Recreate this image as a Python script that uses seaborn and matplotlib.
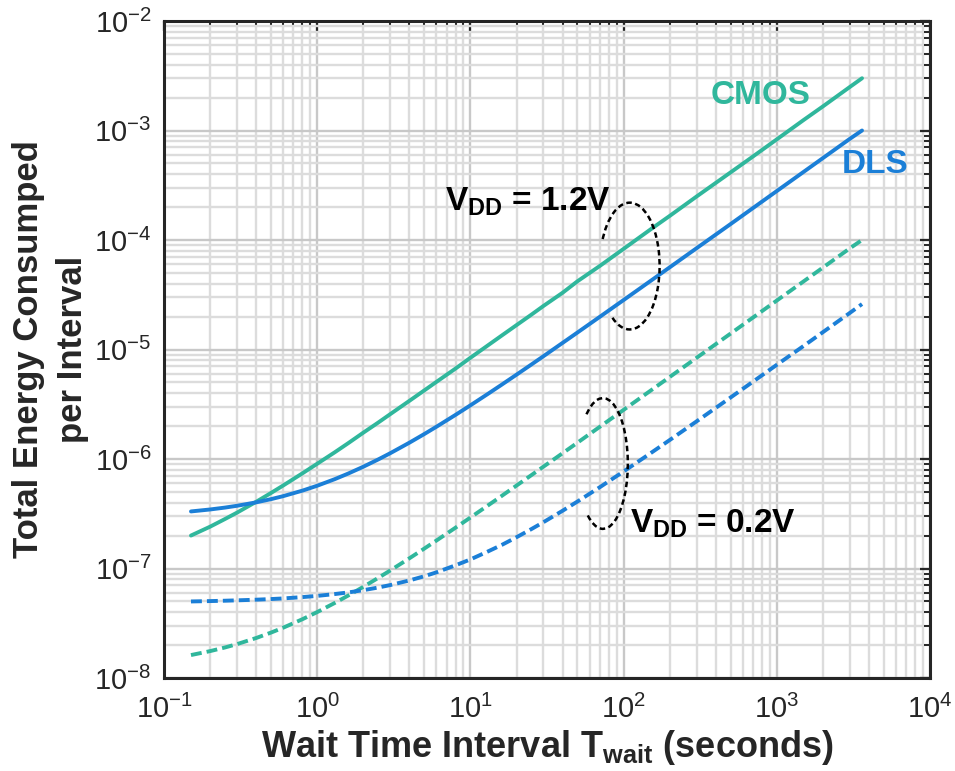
import numpy as np
import pandas as pd
import matplotlib
matplotlib.use("Agg")
import matplotlib.pyplot as plt
from matplotlib.patches import Arc
from matplotlib.ticker import LogLocator, NullFormatter
import seaborn as sns

# ---- data ----
t_wait = [0.15, 0.2, 0.25, 0.3, 0.4, 0.5, 0.6, 0.8, 1, 1.3, 1.6, 2, 2.5, 3, 4, 5, 6, 8,
          10, 13, 16, 20, 25, 30, 40, 50, 70, 100, 150, 200, 300, 500, 700, 1000,
          1500, 2000, 3000, 3600]
cmos_12 = [2.0e-7, 2.41e-7, 2.83e-7, 3.24e-7, 4.07e-7, 4.9e-7, 5.73e-7, 7.39e-7, 9.05e-7,
           1.15e-6, 1.40e-6, 1.74e-6, 2.15e-6, 2.57e-6, 3.4e-6, 4.23e-6, 5.06e-6, 6.7e-6,
           8.4e-6, 1.09e-5, 1.34e-5, 1.67e-5, 2.08e-5, 2.5e-5, 3.3e-5, 4.2e-5, 5.8e-5,
           8.3e-5, 1.25e-4, 1.66e-4, 2.5e-4, 4.15e-4, 5.8e-4, 8.3e-4, 1.25e-3, 1.66e-3,
           2.5e-3, 3.0e-3]
dls_12 = [3.32e-7, 3.46e-7, 3.6e-7, 3.74e-7, 4.02e-7, 4.3e-7, 4.58e-7, 5.14e-7, 5.7e-7,
          6.54e-7, 7.38e-7, 8.5e-7, 9.9e-7, 1.13e-6, 1.41e-6, 1.69e-6, 1.97e-6, 2.53e-6,
          3.09e-6, 3.93e-6, 4.77e-6, 5.89e-6, 7.29e-6, 8.69e-6, 1.15e-5, 1.43e-5, 1.99e-5,
          2.83e-5, 4.23e-5, 5.63e-5, 8.43e-5, 1.40e-4, 1.96e-4, 2.80e-4, 4.2e-4, 5.6e-4,
          8.4e-4, 1.0e-3]
cmos_02 = [1.62e-8, 1.76e-8, 1.9e-8, 2.04e-8, 2.32e-8, 2.6e-8, 2.88e-8, 3.44e-8, 4.0e-8,
           4.84e-8, 5.68e-8, 6.8e-8, 8.2e-8, 9.6e-8, 1.24e-7, 1.52e-7, 1.8e-7, 2.36e-7,
           2.92e-7, 3.76e-7, 4.6e-7, 5.72e-7, 7.12e-7, 8.52e-7, 1.13e-6, 1.41e-6, 1.97e-6,
           2.81e-6, 4.21e-6, 5.61e-6, 8.41e-6, 1.40e-5, 1.96e-5, 2.8e-5, 4.2e-5, 5.6e-5,
           8.4e-5, 1.0e-4]
dls_02 = [5.0e-8, 5.04e-8, 5.08e-8, 5.12e-8, 5.19e-8, 5.26e-8, 5.33e-8, 5.48e-8, 5.62e-8,
          5.84e-8, 6.05e-8, 6.34e-8, 6.7e-8, 7.06e-8, 7.78e-8, 8.5e-8, 9.22e-8, 1.07e-7,
          1.21e-7, 1.43e-7, 1.64e-7, 1.93e-7, 2.29e-7, 2.65e-7, 3.37e-7, 4.09e-7, 5.53e-7,
          7.69e-7, 1.13e-6, 1.49e-6, 2.21e-6, 3.65e-6, 5.09e-6, 7.25e-6, 1.08e-5, 1.44e-5,
          2.16e-5, 2.6e-5]

x_ticks = [1e-1, 1e0, 1e1, 1e2, 1e3, 1e4]
y_ticks = [1e-8, 1e-7, 1e-6, 1e-5, 1e-4, 1e-3, 1e-2]

TEAL = "#30B79C"
BLUE = "#1B7FD7"
DARK = "#262626"

sns.set_theme(style="white")
plt.rcParams["font.family"] = ["Liberation Sans", "DejaVu Sans"]
plt.rcParams["mathtext.fontset"] = "custom"
plt.rcParams["mathtext.rm"] = "Liberation Sans"
plt.rcParams["mathtext.bf"] = "Liberation Sans:bold"
plt.rcParams["mathtext.it"] = "Liberation Sans:italic"
plt.rcParams["axes.unicode_minus"] = False

fig = plt.figure(figsize=(9.55, 7.71), dpi=100)
ax = fig.add_axes([164 / 955, 93 / 771, 766 / 955, 657 / 771])

DASH = (0, (2.8, 1.3))
series = [
    (cmos_12, TEAL, "-"),
    (dls_12, BLUE, "-"),
    (cmos_02, TEAL, DASH),
    (dls_02, BLUE, DASH),
]
for vals, col, ls in series:
    df = pd.DataFrame({"t": t_wait, "e": vals})
    sns.lineplot(data=df, x="t", y="e", ax=ax, color=col, linewidth=2.8,
                 linestyle=ls, estimator=None, sort=False, zorder=3)

ax.set_xscale("log")
ax.set_yscale("log")
ax.set_xlim(x_ticks[0], x_ticks[-1])
ax.set_ylim(y_ticks[0], y_ticks[-1])
ax.set_xticks(x_ticks)
ax.set_yticks(y_ticks)
ax.xaxis.set_minor_locator(LogLocator(base=10, subs=np.arange(2, 10), numticks=100))
ax.yaxis.set_minor_locator(LogLocator(base=10, subs=np.arange(2, 10), numticks=100))
ax.xaxis.set_minor_formatter(NullFormatter())
ax.yaxis.set_minor_formatter(NullFormatter())

ax.grid(which="minor", color="#DCDCDC", linewidth=1.7, zorder=0)
ax.grid(which="major", color="#C8C8C8", linewidth=1.7, zorder=0)
ax.set_axisbelow(True)

for sp in ax.spines.values():
    sp.set_color(DARK)
    sp.set_linewidth(2.2)
ax.tick_params(which="both", direction="in", top=True, right=True, color=DARK,
               labelcolor=DARK, labelsize=21)
ax.tick_params(which="major", length=7, width=1.6)
ax.tick_params(which="minor", length=4, width=1.4)
ax.tick_params(axis="x", which="both", pad=12)
ax.tick_params(axis="y", which="both", pad=9)

ax.set_xlabel(r"Wait Time Interval $\mathbf{T_{wait}}$ (seconds)", fontsize=26,
              fontweight="bold", color=DARK, labelpad=3)
ax.set_ylabel("Total Energy Consumped\nper Interval", fontsize=25,
              fontweight="bold", color=DARK, labelpad=4, linespacing=1.4)

ax.text(0.779, 0.887, "CMOS", transform=ax.transAxes, color=TEAL, fontsize=24,
        fontweight="bold", ha="center", va="center")
ax.text(0.928, 0.781, "DLS", transform=ax.transAxes, color=BLUE, fontsize=24,
        fontweight="bold", ha="center", va="center")
ax.text(0.367, 0.712, r"$\mathbf{V_{DD}}$ = 1.2V", transform=ax.transAxes,
        color="black", fontsize=24, fontweight="bold", ha="left", va="baseline")
ax.text(0.608, 0.221, r"$\mathbf{V_{DD}}$ = 0.2V", transform=ax.transAxes,
        color="black", fontsize=24, fontweight="bold", ha="left", va="baseline")

ax.add_patch(Arc((0.608, 0.627), 0.078, 0.193, theta1=-106, theta2=134,
                 transform=ax.transAxes, color="black", lw=1.8,
                 linestyle=(0, (2.2, 1.4)), zorder=4))
ax.add_patch(Arc((0.573, 0.3265), 0.065, 0.199, theta1=-104, theta2=108,
                 transform=ax.transAxes, color="black", lw=1.8,
                 linestyle=(0, (2.2, 1.4)), zorder=4))

fig.savefig("out.png", dpi=100)
